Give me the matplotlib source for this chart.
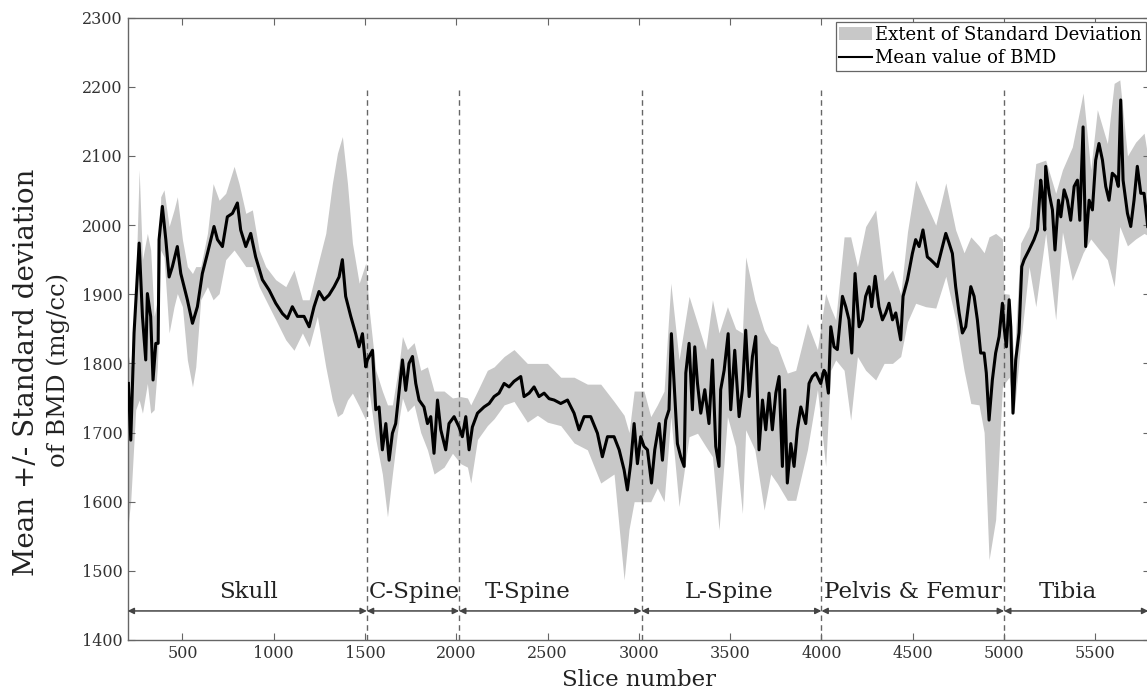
import matplotlib
matplotlib.use("Agg")
import matplotlib.pyplot as plt
from matplotlib.patches import Patch
from matplotlib.lines import Line2D

# ---------------- data ----------------
mean_slice = [204, 217, 235, 263, 281, 299, 308, 326, 339, 354, 367, 372, 390, 409, 427, 445, 472, 491, 527, 555,
              582, 609, 637, 673, 692, 719, 746, 774, 801, 819, 847, 874, 901, 938, 975, 1011, 1048, 1075, 1102, 1130,
              1166, 1194, 1221, 1248, 1276, 1303, 1331, 1358, 1376, 1394, 1422, 1449, 1467, 1486, 1504,
              1513, 1541, 1559, 1577, 1595, 1614, 1632, 1650, 1668, 1687, 1705, 1723, 1741, 1760, 1778, 1796, 1823,
              1842, 1860, 1878, 1897, 1915, 1942, 1960, 1988, 2015, 2033, 2052, 2070, 2088, 2116, 2152, 2180, 2207,
              2234, 2262, 2289, 2316, 2353, 2371, 2399, 2426, 2453, 2481, 2508, 2536, 2572, 2609, 2645, 2672, 2700,
              2736, 2773, 2800, 2828, 2864, 2892, 2919, 2937, 2955, 2974,
              2992, 3010, 3028, 3047, 3069, 3087, 3111, 3129, 3147, 3165, 3178, 3193, 3211, 3229, 3248, 3257, 3275,
              3293, 3306, 3321, 3339, 3361, 3384, 3403, 3421, 3439, 3448, 3467, 3489, 3503, 3525, 3549, 3567, 3585,
              3604, 3622, 3640, 3658, 3677, 3695, 3713, 3731, 3750, 3768, 3786, 3799, 3813, 3832, 3850, 3868, 3887,
              3914, 3932, 3950, 3969, 3996, 4014,
              4023, 4038, 4051, 4069, 4087, 4115, 4133, 4151, 4166, 4184, 4206, 4224, 4242, 4261, 4275, 4294, 4315,
              4334, 4352, 4370, 4389, 4407, 4434, 4447, 4471, 4498, 4516, 4535, 4556, 4580, 4598, 4617, 4635, 4653,
              4681, 4699, 4717, 4735, 4754, 4772, 4790, 4818, 4836, 4854, 4872, 4891, 4903, 4918, 4936, 4954, 4973,
              4991,
              5000, 5013, 5028, 5037, 5049, 5064, 5082, 5097, 5110, 5137, 5164, 5183, 5201, 5210, 5223, 5228, 5247,
              5265, 5279, 5298, 5311, 5329, 5347, 5365, 5384, 5402, 5415, 5433, 5447, 5466, 5484, 5502, 5520, 5539,
              5557, 5575, 5593, 5612, 5626, 5639, 5652, 5676, 5694, 5712, 5730, 5749, 5767, 5787]

mean_bmd = [1771, 1689, 1844, 1974, 1868, 1805, 1901, 1868, 1776, 1829, 1829, 1979, 2027, 1979, 1925, 1940, 1969,
            1930, 1892, 1858, 1882, 1930, 1959, 1998, 1979, 1969, 2012, 2017, 2032, 1993, 1969, 1988, 1954, 1921,
            1906, 1887, 1872, 1865, 1882, 1868, 1868, 1853, 1882, 1904, 1892, 1899, 1911, 1925, 1950, 1897, 1868,
            1843, 1824, 1843, 1795,
            1805, 1819, 1733, 1737, 1675, 1713, 1660, 1699, 1713, 1761, 1805, 1761, 1800, 1810, 1771, 1747, 1737,
            1713, 1723, 1670, 1747, 1704, 1675, 1713, 1723, 1708, 1694, 1723, 1675, 1708, 1728, 1737, 1742, 1752,
            1757, 1771, 1766, 1774, 1781, 1752, 1757, 1766, 1752, 1757, 1749, 1747, 1742, 1747, 1728, 1704, 1723,
            1723, 1699, 1665, 1694, 1694, 1675, 1646, 1617, 1655, 1713,
            1655, 1694, 1680, 1675, 1627, 1675, 1713, 1660, 1718, 1733, 1843, 1771, 1684, 1665, 1651, 1786, 1829,
            1733, 1824, 1771, 1728, 1762, 1713, 1805, 1680, 1651, 1762, 1790, 1843, 1733, 1819, 1723, 1762, 1848,
            1752, 1810, 1839, 1675, 1747, 1704, 1757, 1704, 1757, 1781, 1651, 1762, 1627, 1684, 1651, 1704, 1737,
            1713, 1771, 1781, 1786, 1771, 1790,
            1786, 1757, 1853, 1824, 1820, 1897, 1882, 1863, 1815, 1930, 1853, 1863, 1897, 1911, 1882, 1926, 1882,
            1863, 1873, 1887, 1863, 1873, 1834, 1897, 1921, 1959, 1979, 1969, 1993, 1954, 1950, 1945, 1940, 1959,
            1988, 1974, 1959, 1911, 1873, 1844, 1853, 1911, 1897, 1863, 1815, 1815, 1786, 1718, 1776, 1815, 1839,
            1887,
            1853, 1824, 1892, 1853, 1728, 1805, 1844, 1940, 1950, 1964, 1979, 1993, 2065, 2046, 1993, 2085, 2046,
            2022, 1964, 2036, 2012, 2051, 2036, 2007, 2056, 2065, 2007, 2142, 1969, 2036, 2022, 2094, 2118, 2094,
            2056, 2036, 2075, 2070, 2056, 2181, 2065, 2017, 1998, 2036, 2085, 2046, 2046, 1998]

band_slice = [198, 217, 244, 263, 281, 308, 326, 345, 363, 381, 399, 427, 454, 472, 500, 527, 555, 573, 600, 637,
              668, 701, 737, 783, 810, 847, 883, 920, 956, 1011, 1066, 1111, 1157, 1194, 1239, 1285, 1321, 1349,
              1376, 1404, 1431, 1468, 1504,
              1522, 1559, 1595, 1623, 1650, 1687, 1705, 1732, 1769, 1805, 1842, 1878, 1933, 1979, 2024, 2061, 2079,
              2116, 2170, 2207, 2262, 2316, 2389, 2444, 2499, 2572, 2645, 2718, 2791, 2864, 2919, 2946, 2974,
              3028, 3065, 3101, 3138, 3175, 3220, 3275, 3321, 3366, 3403, 3439, 3485, 3530, 3567, 3585, 3635, 3686,
              3722, 3759, 3813, 3859, 3923, 3978,
              4023, 4051, 4078, 4124, 4160, 4197, 4242, 4297, 4343, 4389, 4434, 4471, 4516, 4571, 4626, 4681, 4735,
              4781, 4818, 4863, 4891, 4918, 4954, 4991,
              5000, 5028, 5055, 5091, 5137, 5174, 5228, 5283, 5320, 5374, 5433, 5475, 5511, 5566, 5603, 5634, 5676,
              5721, 5767, 5787]

band_upper = [1819, 1795, 1911, 2080, 1950, 1988, 1964, 1868, 1892, 2041, 2051, 1998, 2022, 2041, 1979, 1940, 1930,
              1940, 1940, 1988, 2060, 2036, 2046, 2085, 2060, 2017, 2022, 1964, 1940, 1921, 1911, 1935, 1892, 1892,
              1940, 1988, 2060, 2104, 2128, 2060, 1974, 1916, 1945,
              1880, 1790, 1760, 1740, 1740, 1800, 1839, 1820, 1830, 1790, 1795, 1760, 1760, 1750, 1752, 1750, 1740,
              1760, 1790, 1795, 1810, 1820, 1800, 1800, 1800, 1780, 1780, 1770, 1770, 1745, 1725, 1700, 1760,
              1760, 1723, 1740, 1760, 1916, 1805, 1897, 1858, 1820, 1892, 1844, 1882, 1850, 1844, 1954, 1892, 1848,
              1830, 1824, 1786, 1790, 1858, 1820,
              1901, 1880, 1863, 1983, 1983, 1940, 1998, 2022, 1920, 1935, 1900, 1990, 2065, 2032, 2000, 2061, 1993,
              1960, 1983, 1970, 1960, 1983, 1988, 1980,
              1901, 1900, 1805, 1974, 1998, 2089, 2094, 2046, 2080, 2113, 2191, 2080, 2167, 2118, 2205, 2210, 2100,
              2120, 2133, 2100]

band_lower = [1554, 1602, 1733, 1747, 1728, 1771, 1728, 1733, 1795, 1964, 1954, 1844, 1882, 1901, 1882, 1805, 1766,
              1795, 1892, 1911, 1892, 1901, 1950, 1964, 1954, 1940, 1940, 1911, 1892, 1863, 1834, 1819, 1844, 1824,
              1868, 1795, 1747, 1723, 1728, 1747, 1757, 1738, 1718,
              1760, 1690, 1640, 1578, 1640, 1720, 1750, 1730, 1740, 1700, 1675, 1640, 1650, 1670, 1655, 1650, 1627,
              1690, 1710, 1720, 1740, 1745, 1715, 1725, 1715, 1710, 1685, 1675, 1627, 1640, 1487, 1560, 1600,
              1600, 1600, 1620, 1600, 1723, 1593, 1694, 1699, 1680, 1665, 1559, 1723, 1680, 1583, 1704, 1675, 1588,
              1640, 1626, 1602, 1602, 1675, 1762,
              1651, 1790, 1805, 1790, 1718, 1810, 1790, 1776, 1800, 1800, 1810, 1860, 1887, 1882, 1880, 1926, 1863,
              1790, 1742, 1740, 1700, 1516, 1574, 1766,
              1770, 1780, 1728, 1829, 1940, 1882, 1988, 1863, 1990, 1920, 1960, 1980, 1968, 1950, 1911, 1998, 1970,
              1980, 1988, 1985]

region_names = ["Skull", "C-Spine", "T-Spine", "L-Spine", "Pelvis & Femur", "Tibia"]
region_bounds = [200, 1510, 2015, 3015, 4000, 5000, 5790]
region_label_x = [863, 1768, 2392, 3493, 4500, 5350]

x_ticks = [500, 1000, 1500, 2000, 2500, 3000, 3500, 4000, 4500, 5000, 5500]
y_ticks = [1400, 1500, 1600, 1700, 1800, 1900, 2000, 2100, 2200, 2300]

# ---------------- figure ----------------
SERIF = "DejaVu Serif"
fig = plt.figure(figsize=(11.47, 6.93), dpi=100)
ax = fig.add_axes([0.1113, 0.0765, 0.8914, 0.898])

band_color = "#c8c8c8"
ax.fill_between(band_slice, band_lower, band_upper, color=band_color, linewidth=0, zorder=1)
ax.plot(mean_slice, mean_bmd, color="black", linewidth=2.2, zorder=3)

# region separators
ax.vlines(region_bounds[1:-1], 1400, 2200, colors="#666666", linestyles=(0, (4, 3)), linewidth=1.0, zorder=2)

# region arrows and labels
for i, name in enumerate(region_names):
    a, b = region_bounds[i], region_bounds[i + 1]
    ax.annotate("", xy=(b, 1442), xytext=(a, 1442),
                arrowprops=dict(arrowstyle="<|-|>", color="#444444", lw=1.1,
                                mutation_scale=9, shrinkA=0, shrinkB=0), zorder=4)
    ax.text(region_label_x[i], 1470, name, ha="center", va="center",
            fontsize=16.5, family=SERIF, color="#222222", zorder=5)

ax.set_xlim(200, 5800)
ax.set_ylim(1400, 2300)
ax.set_xticks(x_ticks)
ax.set_yticks(y_ticks)
ax.tick_params(direction="in", length=5, width=0.8, color="#666666",
               top=True, right=True, labelsize=11.5, labelcolor="#333333")
for lab in ax.get_xticklabels() + ax.get_yticklabels():
    lab.set_family(SERIF)
for sp in ax.spines.values():
    sp.set_color("#666666")
    sp.set_linewidth(1.0)

ax.set_xlabel("Slice number", fontsize=16.5, family=SERIF, color="#222222", labelpad=5)

# two-line y label
fig.text(27 / 1147, 1 - 372 / 693, "Mean +/- Standard deviation", rotation=90,
         ha="center", va="center", fontsize=20, family=SERIF, color="#222222")
fig.text(58 / 1147, 1 - 370 / 693, "of BMD (mg/cc)", rotation=90,
         ha="center", va="center", fontsize=17.5, family=SERIF, color="#222222")

handles = [Patch(facecolor=band_color, edgecolor="none"),
           Line2D([0], [0], color="black", linewidth=1.5)]
leg = ax.legend(handles, ["Extent of Standard Deviation", "Mean value of BMD"],
                loc="upper right", bbox_to_anchor=(1.0, 1.0), fancybox=False, framealpha=1,
                edgecolor="#666666", prop={"family": SERIF, "size": 13},
                handlelength=1.8, handletextpad=0.2, borderpad=0.2, labelspacing=0.3,
                borderaxespad=0.25)
leg.get_frame().set_linewidth(0.9)

fig.savefig("out.png", dpi=100)
